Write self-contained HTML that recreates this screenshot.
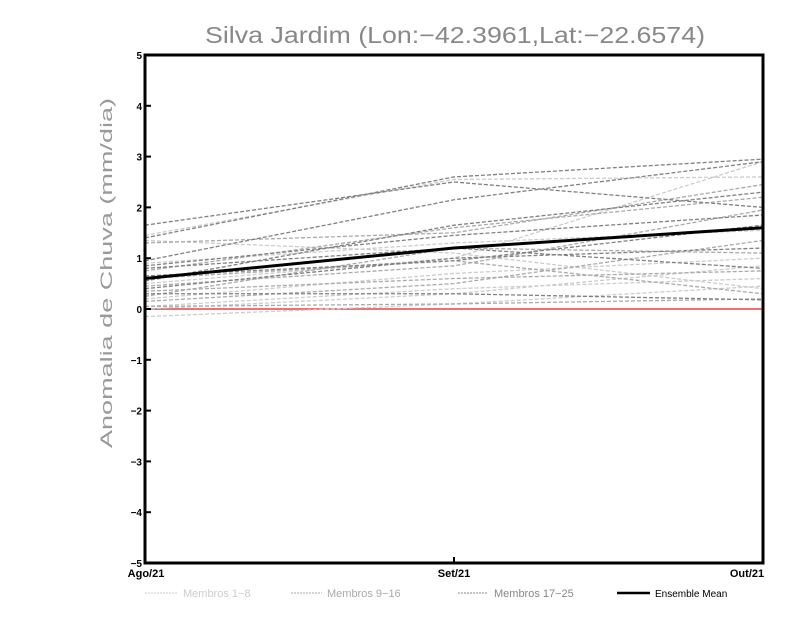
<!DOCTYPE html>
<html><head><meta charset="utf-8"><style>
body{margin:0;background:#fff;width:800px;height:618px;overflow:hidden}
svg text{font-family:"Liberation Sans",sans-serif}
</style></head><body>
<svg id="c" width="800" height="618">
<text x="205" y="43" font-size="23" fill="#888" textLength="500" lengthAdjust="spacingAndGlyphs">Silva Jardim (Lon:−42.3961,Lat:−22.6574)</text>
<text transform="translate(112,448) rotate(-90)" font-size="17" fill="#999" textLength="350" lengthAdjust="spacingAndGlyphs">Anomalia de Chuva (mm/dia)</text>
<g id="series"></g>
<g id="axes"></g>
<g font-size="11">
<line x1="145" y1="593" x2="178" y2="593" stroke="#ccc" stroke-dasharray="2,1"/>
<text x="183" y="597" fill="#ccc">Membros 1−8</text>
<line x1="291" y1="593" x2="322" y2="593" stroke="#aaa" stroke-dasharray="2,1"/>
<text x="327" y="597" fill="#aaa">Membros 9−16</text>
<line x1="458" y1="593" x2="488" y2="593" stroke="#888" stroke-dasharray="2,1"/>
<text x="494" y="597" fill="#888">Membros 17−25</text>
<line x1="617" y1="593" x2="650" y2="593" stroke="#000" stroke-width="2.5"/>
<text x="655" y="597" fill="#000" font-size="10">Ensemble Mean</text>
</g>
</svg>
<script>
const categories=["Ago/21","Set/21","Out/21"];
const yTicks=[-5,-4,-3,-2,-1,0,1,2,3,4,5];
const light=[[-0.15,0.1,0.45],[0.05,0.4,0.6],[1.45,2.55,2.6],[0.5,1.0,2.9],[0.2,0.7,1.0],[0.9,1.3,1.55],[1.35,1.1,0.4],[0.0,0.3,0.85]];
const mid=[[0.15,0.5,1.35],[0.75,1.6,2.2],[0.35,0.6,0.75],[1.3,1.5,2.45],[0.45,0.85,1.95],[0.25,1.2,1.1],[0.6,0.95,0.3],[0.05,0.1,0.2]];
const dark=[[1.65,2.5,2.0],[0.95,2.15,2.9],[1.4,2.6,2.95],[0.4,1.0,1.2],[0.85,1.45,1.85],[0.3,0.3,0.18],[0.55,1.65,2.3],[0.8,1.2,0.8],[0.65,0.95,1.65]];
const mean=[0.6,1.2,1.6];
const X0=145,X1=763,Y0=563,Y1=55;
const x=i=>X0+(X1-X0)*i/(categories.length-1);
const y=v=>Y0-(v+5)/10*(Y0-Y1);
const NS="http://www.w3.org/2000/svg";
const S=document.getElementById('series'),A=document.getElementById('axes');
function mk(t,a,p){const e=document.createElementNS(NS,t);for(const k in a)e.setAttribute(k,a[k]);p.appendChild(e);return e;}
const zl=mk('line',{x1:X0,x2:X1,y1:y(0),y2:y(0),stroke:'#f04040','stroke-width':1.5},S);


function draw(arr,col,name){arr.forEach((d,j)=>{const p=mk('polyline',{points:d.map((v,i)=>x(i)+','+y(v)).join(' '),fill:'none',stroke:col,'stroke-width':1.3,'stroke-dasharray':'4,2'},S);

});}
draw(light,'#ccc','member-light');draw(mid,'#aaa','member-mid');draw(dark,'#808080','member-dark');
const m=mk('polyline',{points:mean.map((v,i)=>x(i)+','+y(v)).join(' '),fill:'none',stroke:'#000','stroke-width':3},S);


const fr=mk('rect',{x:X0,y:Y1,width:X1-X0,height:Y0-Y1,fill:'none',stroke:'#000','stroke-width':3},A);


yTicks.forEach(v=>{const t=mk('line',{x1:X0,x2:X0+6,y1:y(v),y2:y(v),stroke:'#000','stroke-width':2},A);


const l=mk('text',{x:X0-3,y:y(v)+4,'font-size':10,'font-weight':'bold','text-anchor':'end'},A);l.textContent=String(v).replace('-','−');

});
categories.forEach((c,i)=>{const t=mk('line',{x1:x(i),x2:x(i),y1:Y0,y2:Y0-6,stroke:'#000','stroke-width':2},A);


const l=mk('text',{x:x(i)-(i==2?16:i==0?-1:0),y:Y0+14,'font-size':11,'font-weight':'bold','text-anchor':'middle'},A);l.textContent=c;

});
</script>
</body></html>
